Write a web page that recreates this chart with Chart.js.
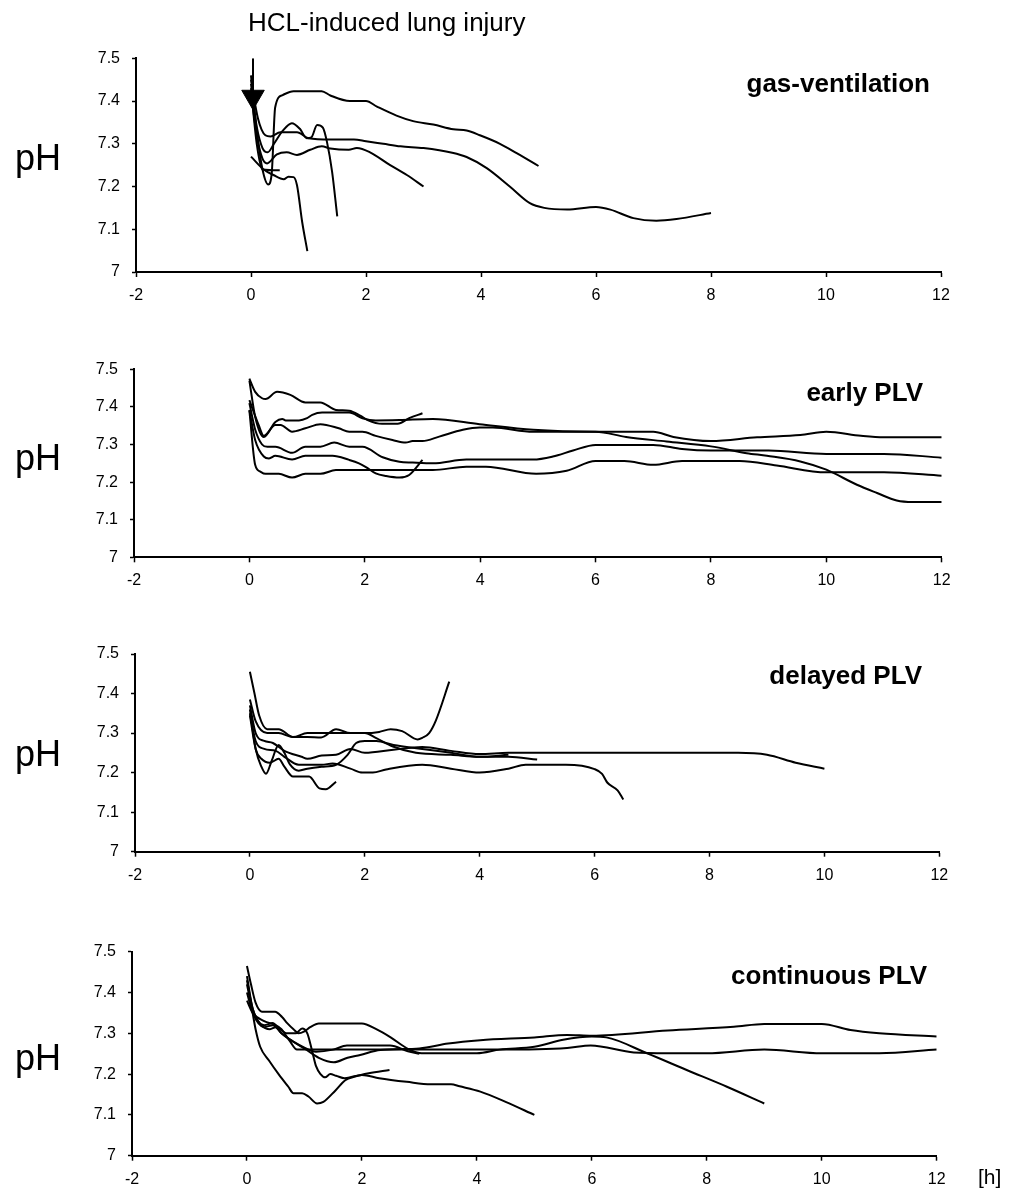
<!DOCTYPE html>
<html>
<head>
<meta charset="utf-8">
<script src="https://cdn.jsdelivr.net/npm/chart.js@4.4.0/dist/chart.umd.min.js"></script>
<style>
body{margin:0;background:#fff;width:1016px;height:1189px;position:relative;overflow:hidden;font-family:"Liberation Sans",Arial,sans-serif;color:#000;}
canvas{position:absolute;left:0;}
.lbl{position:absolute;white-space:nowrap;line-height:1;}
</style>
</head>
<body>
<canvas id="c0"></canvas>
<canvas id="c1"></canvas>
<canvas id="c2"></canvas>
<canvas id="c3"></canvas>
<div class="lbl" style="left:248px;top:9px;font-size:26px;">HCL-induced lung injury</div>
<div class="lbl" style="left:15px;top:140px;font-size:36px;">pH</div>
<div class="lbl" style="left:15px;top:440px;font-size:36px;">pH</div>
<div class="lbl" style="left:15px;top:736px;font-size:36px;">pH</div>
<div class="lbl" style="left:15px;top:1040px;font-size:36px;">pH</div>
<div class="lbl" id="t0" style="right:86px;top:70px;font-size:26px;font-weight:bold;"></div>
<div class="lbl" id="t1" style="right:93px;top:379px;font-size:26px;font-weight:bold;"></div>
<div class="lbl" id="t2" style="right:94px;top:662px;font-size:26px;font-weight:bold;"></div>
<div class="lbl" id="t3" style="right:89px;top:962px;font-size:26px;font-weight:bold;"></div>
<div class="lbl" style="left:978px;top:1166px;font-size:21px;">[h]</div>
<script>
const panelTitles = ["gas-ventilation", "early PLV", "delayed PLV", "continuous PLV"];
const xTicks = [-2, 0, 2, 4, 6, 8, 10, 12];
const yTicks = [7, 7.1, 7.2, 7.3, 7.4, 7.5];

// gas-ventilation  [h, pH]
const gasA = [[0,7.46],[0.1,7.33],[0.2,7.24],[0.3,7.205],[0.36,7.23],[0.42,7.385],[0.55,7.414],[0.74,7.423],[1.23,7.423],[1.38,7.413],[1.72,7.40],[2.0,7.40],[2.19,7.387],[2.53,7.366],[2.82,7.353],[3.17,7.345],[3.52,7.334],[3.75,7.331],[3.98,7.32],[4.33,7.30],[4.62,7.278],[5.0,7.248]];
const gasB = [[0,7.45],[0.12,7.36],[0.25,7.32],[0.34,7.317],[0.51,7.327],[0.8,7.327],[1.0,7.313],[1.38,7.31],[1.79,7.31],[2.0,7.306],[2.3,7.30],[2.6,7.294],[3.0,7.29],[3.5,7.279],[3.75,7.269],[4.1,7.243],[4.5,7.2],[4.85,7.161],[5.1,7.15],[5.5,7.146],[6.0,7.152],[6.25,7.146],[6.65,7.126],[7.05,7.12],[7.4,7.124],[8.0,7.138]];
const gasC = [[0,7.42],[0.1,7.32],[0.2,7.265],[0.28,7.254],[0.45,7.275],[0.62,7.28],[0.8,7.274],[1.03,7.286],[1.23,7.294],[1.38,7.289],[1.7,7.286],[1.84,7.29],[2.07,7.28],[2.42,7.25],[2.71,7.227],[3.0,7.2]];
const gasD = [[0,7.44],[0.1,7.34],[0.2,7.29],[0.29,7.28],[0.4,7.30],[0.55,7.33],[0.71,7.348],[0.85,7.335],[0.97,7.313],[1.05,7.315],[1.15,7.344],[1.25,7.338],[1.32,7.305],[1.41,7.235],[1.5,7.13]];
const gasE = [[0,7.27],[0.22,7.24],[0.39,7.227],[0.57,7.217],[0.65,7.223],[0.74,7.222],[0.8,7.203],[0.89,7.117],[0.98,7.049]];
const gasF = [[0,7.43],[0.1,7.30],[0.2,7.24],[0.5,7.238]];
const gasArrow = [[0.035,7.5],[0.035,7.41]];

// early PLV
const early1 = [[0,7.475],[0.1,7.44],[0.22,7.423],[0.28,7.421],[0.48,7.44],[0.71,7.432],[0.97,7.412],[1.23,7.412],[1.5,7.392],[1.73,7.39],[1.93,7.376],[2.05,7.365],[2.3,7.355],[2.57,7.355],[2.77,7.37],[3.0,7.383]];
const early2 = [[0,7.47],[0.1,7.374],[0.25,7.32],[0.45,7.36],[0.57,7.368],[0.63,7.364],[0.86,7.364],[1.0,7.37],[1.09,7.379],[1.26,7.385],[1.73,7.385],[1.96,7.37],[2.19,7.364],[2.6,7.365],[3.18,7.368],[3.99,7.354],[4.92,7.339],[6.0,7.334],[7.0,7.334],[7.35,7.32],[8.0,7.309],[8.8,7.319],[9.55,7.325],[10.0,7.334],[10.6,7.323],[11.0,7.319],[12.0,7.319]];
const early3 = [[0,7.418],[0.16,7.352],[0.25,7.323],[0.45,7.352],[0.54,7.352],[0.74,7.334],[0.97,7.343],[1.23,7.354],[1.55,7.343],[1.73,7.334],[1.96,7.334],[2.19,7.323],[2.48,7.312],[2.71,7.305],[2.83,7.309],[3.0,7.309],[3.29,7.321],[3.7,7.339],[3.99,7.345],[4.22,7.345],[4.92,7.334],[6.0,7.334],[6.53,7.32],[7.23,7.308],[8.0,7.295],[8.62,7.277],[8.97,7.27],[9.55,7.255],[10.0,7.233],[10.53,7.193],[10.88,7.171],[11.22,7.151],[11.5,7.147],[12.0,7.147]];
const early4 = [[0,7.41],[0.1,7.34],[0.22,7.30],[0.31,7.294],[0.45,7.294],[0.74,7.278],[0.97,7.294],[1.23,7.294],[1.47,7.305],[1.73,7.294],[1.96,7.294],[2.31,7.266],[2.6,7.254],[2.83,7.252],[3.18,7.25],[3.76,7.26],[4.92,7.26],[5.26,7.268],[5.61,7.284],[6.0,7.299],[7.0,7.299],[7.5,7.288],[8.0,7.284],[9.0,7.284],[10.0,7.275],[11.0,7.275],[12.0,7.265]];
const early5 = [[0,7.392],[0.1,7.312],[0.25,7.268],[0.34,7.263],[0.45,7.27],[0.74,7.26],[0.97,7.27],[1.44,7.27],[1.73,7.259],[1.9,7.25],[2.02,7.24],[2.19,7.223],[2.37,7.216],[2.6,7.212],[2.77,7.219],[3.0,7.259]];
const early6 = [[0,7.39],[0.1,7.246],[0.19,7.228],[0.28,7.222],[0.51,7.222],[0.74,7.212],[0.97,7.222],[1.23,7.222],[1.5,7.232],[3.18,7.232],[3.76,7.241],[4.1,7.241],[4.97,7.222],[5.5,7.23],[6.0,7.256],[6.5,7.256],[7.0,7.246],[7.5,7.256],[8.5,7.256],[9.14,7.244],[10.0,7.226],[11.0,7.226],[12.0,7.217]];

// delayed PLV
const del1 = [[0,7.455],[0.08,7.40],[0.16,7.345],[0.3,7.31],[0.5,7.31],[0.75,7.29],[1.0,7.29],[1.24,7.289],[1.5,7.31],[1.75,7.30],[2.0,7.30],[2.25,7.303],[2.45,7.31],[2.65,7.305],[2.92,7.284],[3.0,7.288],[3.12,7.30],[3.24,7.333],[3.47,7.43]];
const del2 = [[0,7.385],[0.1,7.33],[0.3,7.30],[0.5,7.30],[0.75,7.29],[1.0,7.30],[1.5,7.30],[2.0,7.30],[2.2,7.287],[2.49,7.266],[2.89,7.25],[3.5,7.245],[4.0,7.24],[4.5,7.24],[5.0,7.233]];
const del3 = [[0,7.37],[0.1,7.30],[0.25,7.28],[0.4,7.275],[0.6,7.255],[0.9,7.24],[1.0,7.235],[1.25,7.243],[1.5,7.245],[1.75,7.26],[2.0,7.25],[2.5,7.258],[3.0,7.265],[3.5,7.255],[4.0,7.247],[4.5,7.25],[6.0,7.25],[8.5,7.25],[9.0,7.245],[9.5,7.225],[10.0,7.21]];
const del4 = [[0,7.35],[0.1,7.28],[0.25,7.26],[0.45,7.255],[0.6,7.24],[0.85,7.22],[1.0,7.22],[1.25,7.22],[1.44,7.223],[1.75,7.21],[1.96,7.2],[2.14,7.2],[2.37,7.208],[3.0,7.22],[3.5,7.21],[4.0,7.2],[4.5,7.21],[4.8,7.22],[5.5,7.22],[6.0,7.209],[6.13,7.197],[6.22,7.175],[6.4,7.155],[6.5,7.132]];
const del5 = [[0,7.36],[0.1,7.26],[0.2,7.215],[0.28,7.197],[0.38,7.23],[0.5,7.27],[0.6,7.25],[0.7,7.22],[0.85,7.205],[1.0,7.21],[1.25,7.215],[1.5,7.22],[1.7,7.245],[1.85,7.275],[2.0,7.28],[2.2,7.28],[2.5,7.27],[3.0,7.26],[3.5,7.25],[4.0,7.24],[4.5,7.245]];
const del6 = [[0,7.345],[0.1,7.26],[0.2,7.235],[0.35,7.225],[0.5,7.235],[0.6,7.215],[0.75,7.19],[1.03,7.19],[1.21,7.16],[1.32,7.158],[1.5,7.177]];

// continuous PLV
const cont1 = [[0,7.42],[0.09,7.357],[0.15,7.31],[0.23,7.267],[0.38,7.234],[0.55,7.2],[0.72,7.169],[0.81,7.153],[0.96,7.153],[1.07,7.145],[1.22,7.128],[1.33,7.132],[1.54,7.16],[1.71,7.185],[1.88,7.194],[2.12,7.202],[2.48,7.21]];
const cont2 = [[0,7.44],[0.1,7.36],[0.25,7.32],[0.4,7.31],[0.5,7.315],[0.7,7.30],[0.85,7.30],[0.96,7.312],[1.05,7.30],[1.13,7.259],[1.2,7.22],[1.28,7.2],[1.36,7.192],[1.45,7.2],[1.55,7.196],[1.7,7.19],[2.0,7.198],[2.3,7.19],[2.78,7.181],[3.2,7.175],[3.55,7.175],[3.7,7.17],[4.06,7.157],[4.5,7.132],[5.0,7.1]];
const cont3 = [[0,7.465],[0.07,7.42],[0.15,7.375],[0.26,7.353],[0.49,7.353],[0.61,7.34],[0.7,7.325],[0.81,7.31],[0.9,7.30],[1.0,7.305],[1.1,7.315],[1.25,7.324],[2.0,7.324],[2.25,7.31],[2.5,7.29],[2.8,7.262],[3.0,7.252],[3.2,7.251],[4.0,7.251],[4.4,7.26],[5.0,7.267],[5.5,7.284],[6.0,7.292],[6.25,7.29],[6.96,7.251],[7.65,7.21],[8.35,7.169],[9.0,7.128]];
const cont4 = [[0,7.38],[0.1,7.35],[0.3,7.33],[0.5,7.32],[0.6,7.31],[0.75,7.28],[0.87,7.26],[2.0,7.26],[3.0,7.26],[4.0,7.26],[4.4,7.26],[5.57,7.264],[5.98,7.27],[6.73,7.253],[7.32,7.251],[8.0,7.251],[9.0,7.26],[10.0,7.251],[11.0,7.251],[12.0,7.26]];
const cont5 = [[0,7.43],[0.1,7.36],[0.3,7.32],[0.45,7.325],[0.6,7.30],[0.8,7.28],[1.04,7.259],[1.25,7.24],[1.51,7.229],[1.75,7.24],[1.97,7.247],[2.32,7.259],[3.0,7.263],[3.5,7.275],[4.06,7.283],[5.0,7.29],[5.57,7.296],[6.0,7.294],[7.32,7.307],[8.47,7.316],[9.0,7.323],[10.0,7.323],[10.5,7.308],[11.0,7.30],[12.0,7.292]];
const cont6 = [[0,7.40],[0.1,7.35],[0.3,7.315],[0.45,7.32],[0.6,7.30],[0.8,7.28],[1.0,7.265],[1.2,7.255],[1.5,7.26],[1.74,7.27],[2.49,7.27],[2.8,7.256],[3.0,7.25]];

/* layout of the four panels (canvas band + plot area, px) */
const boxes = [
{top:28, h:282, l:136, r:941, t:58.3, b:272},
{top:340, h:260, l:134, r:941.7, t:369.3, b:557.3},
{top:624, h:266, l:135, r:939.3, t:654, b:851.7},
{top:920, h:269, l:132, r:936.7, t:951.7, b:1155.7}
];
const YW = 44, XH = 34;
const font = {family:"'Liberation Sans', Arial, sans-serif", size:16};

function line(s){
return {
data:s.map(p=>({x:p[0], y:p[1]})),
borderColor:"#000",
borderWidth:2,
pointRadius:0,
fill:false,
cubicInterpolationMode:"monotone"
};
}

function drawPanel(i, series, extra){

let bx = boxes[i];
let cv = document.getElementById("c"+i);
cv.width = 1016;
cv.height = bx.h;
cv.style.top = bx.top+"px";
document.getElementById("t"+i).textContent = panelTitles[i];

let ds = series.map(line).concat(extra||[]);

new Chart(cv,{
type:"line",
data:{datasets:ds},
options:{
responsive:false,
animation:false,
layout:{padding:{left:bx.l-YW, right:1016-bx.r, top:bx.t-bx.top, bottom:bx.top+bx.h-bx.b-XH}},
plugins:{legend:{display:false}, tooltip:{enabled:false}},
scales:{
x:{
type:"linear", min:-2, max:12,
afterFit:s=>{ s.height=XH; },
afterBuildTicks:s=>{ s.ticks=xTicks.map(v=>({value:v})); },
ticks:{color:"#000", font:font, padding:9, maxRotation:0, autoSkip:false, callback:v=>String(v)},
grid:{drawOnChartArea:false, drawTicks:true, tickLength:5, tickColor:"#000", tickWidth:1.5},
border:{display:true, color:"#000", width:2}
},
y:{
type:"linear", min:7, max:7.5,
afterFit:s=>{ s.width=YW; },
afterBuildTicks:s=>{ s.ticks=yTicks.map(v=>({value:v})); },
ticks:{color:"#000", font:font, padding:12, callback:v=>String(Math.round(v*10)/10)},
grid:{drawOnChartArea:false, drawTicks:true, tickLength:4, tickColor:"#000", tickWidth:1.5},
border:{display:true, color:"#000", width:2}
}
}
}
});

}

/* arrow = shaft + triangle head */
let arrow = [
{data:gasArrow.map(p=>({x:p[0], y:p[1]})), borderColor:"#000", borderWidth:2, pointRadius:0},
{data:[{x:gasArrow[1][0], y:gasArrow[1][1]}], showLine:false, pointStyle:"triangle", rotation:180, pointRadius:13, backgroundColor:"#000", borderColor:"#000", borderWidth:1}
];

drawPanel(0, [gasA, gasB, gasC, gasD, gasE, gasF], arrow);
drawPanel(1, [early1, early2, early3, early4, early5, early6]);
drawPanel(2, [del1, del2, del3, del4, del5, del6]);
drawPanel(3, [cont1, cont2, cont3, cont4, cont5, cont6]);
</script>
</body>
</html>
